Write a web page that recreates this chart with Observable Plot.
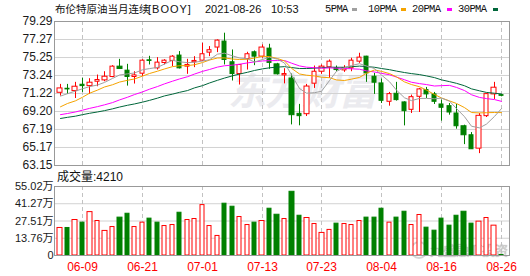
<!DOCTYPE html>
<html><head><meta charset="utf-8">
<script src="https://cdn.jsdelivr.net/npm/d3@7"></script>
<script src="https://cdn.jsdelivr.net/npm/@observablehq/plot@0.6"></script>
<style>
body{margin:0;background:#fff;}
#wrap{position:relative;width:530px;height:276px;overflow:hidden;font-family:"Liberation Sans",Arial,"Noto Sans CJK SC",sans-serif;color:#111;}
.abs{position:absolute;white-space:nowrap;line-height:1;}
.sw{position:absolute;width:5px;height:3px;}
svg{position:absolute;left:0;}
</style></head><body><div id="wrap">
<div class="abs" style="left:228px;top:70px;font-size:38px;font-weight:bold;font-style:italic;color:#ebebef;font-family:'Noto Sans CJK SC';letter-spacing:-1px;">东方财富</div>
<div class="abs" style="left:430px;top:243px;font-size:13px;color:#d0d0d0;font-family:'Noto Sans CJK SC';text-shadow:0 0 1px #999;">九盛融汇投资</div>
<div class="abs" style="left:410px;top:241px;width:14px;height:14px;border:2px solid #d6d6d6;border-radius:50%;"></div>
</div>
<script>
// ---------- data ----------
const dates = ["06-04","06-07","06-08","06-09","06-10","06-11","06-14","06-15","06-16","06-17","06-18","06-21","06-22","06-23","06-24","06-25","06-28","06-29","06-30","07-01","07-02","07-05","07-06","07-07","07-08","07-09","07-12","07-13","07-14","07-15","07-16","07-19","07-20","07-21","07-22","07-23","07-26","07-27","07-28","07-29","07-30","08-02","08-03","08-04","08-05","08-06","08-09","08-10","08-11","08-12","08-13","08-16","08-17","08-18","08-19","08-20","08-23","08-24","08-25","08-26"];
const dateTicks = ["06-09","06-21","07-01","07-13","07-23","08-04","08-16","08-26"];
const open  = [71.30,71.75,71.49,72.20,72.05,72.54,72.69,73.07,74.23,73.78,73.07,73.44,74.94,74.04,74.64,74.87,75.47,74.23,74.72,74.90,75.80,76.37,77.04,74.72,73.40,75.09,75.84,75.35,76.25,74.49,73.25,72.90,68.94,68.90,72.32,73.66,74.15,74.04,73.81,74.04,74.79,75.35,73.10,72.35,70.29,71.19,70.22,69.39,70.85,71.60,71.12,69.99,69.80,68.98,67.55,66.54,65.04,68.68,71.12,71.04];
const high  = [72.24,72.24,72.47,72.92,72.88,73.29,73.66,74.34,75.05,74.49,73.66,75.01,75.39,75.24,75.01,75.47,75.92,75.05,75.35,76.85,76.48,77.23,77.98,76.10,74.45,75.84,75.99,76.67,76.74,74.60,74.00,73.40,70.00,72.24,74.30,74.42,74.98,74.30,74.34,75.17,75.73,75.39,73.48,72.84,71.34,72.47,70.29,71.04,71.79,71.90,71.34,70.48,70.10,69.99,67.67,66.84,68.98,71.23,72.47,71.12];
const low   = [70.93,71.12,70.66,71.34,71.12,71.98,72.54,72.99,73.93,72.05,72.28,73.10,74.42,73.85,74.42,74.23,73.97,73.37,74.12,74.79,75.35,75.80,74.42,72.62,72.17,73.85,74.34,75.17,73.93,73.29,72.30,67.70,67.60,68.64,71.79,73.37,72.92,73.66,73.59,73.66,74.60,72.47,71.12,70.10,69.80,70.37,67.59,68.98,69.09,70.66,69.99,68.12,68.79,67.22,65.49,64.97,64.48,68.53,70.55,70.85];
const close = [71.79,71.68,71.98,72.05,72.43,72.73,73.10,74.23,73.97,73.07,73.25,74.90,74.87,74.68,74.90,75.35,74.04,74.42,74.87,75.62,76.07,77.15,74.98,73.40,74.42,75.62,75.35,76.37,74.65,73.37,73.40,68.79,68.68,72.00,73.66,74.23,74.79,73.85,74.04,74.90,75.24,73.48,72.43,70.40,71.15,70.48,69.24,70.81,71.68,71.12,70.29,69.62,69.09,67.55,66.54,64.97,68.72,71.15,71.87,70.96];
const ma5  = [70.93,71.20,71.49,71.75,71.99,72.17,72.46,72.91,73.29,73.42,73.52,73.88,74.01,74.15,74.52,74.94,74.77,74.68,74.72,74.86,75.00,75.63,75.74,75.44,75.20,75.11,74.75,75.03,75.28,75.07,74.63,73.32,71.78,71.25,71.31,71.47,72.67,73.71,74.11,74.36,74.56,74.30,74.02,73.29,72.54,71.59,70.74,70.42,70.67,70.67,70.63,70.70,70.36,69.53,68.62,67.55,67.37,67.79,68.65,69.53];
const ma10 = [69.73,70.10,70.40,70.80,71.25,71.60,71.95,72.20,72.50,72.70,72.85,73.17,73.46,73.72,73.97,74.23,74.33,74.35,74.44,74.69,74.97,75.20,75.21,75.08,75.03,75.06,75.19,75.39,75.36,75.14,74.87,74.04,73.41,73.27,73.19,73.05,72.99,72.74,72.68,72.83,73.02,73.49,73.86,73.70,73.45,73.08,72.52,72.22,71.98,71.60,71.11,70.72,70.39,70.10,69.64,69.09,69.04,69.07,69.09,69.08];
const ma20 = [68.85,68.98,69.15,69.35,69.55,69.75,69.95,70.20,70.50,70.80,71.10,71.40,71.70,72.00,72.30,72.60,72.85,73.10,73.40,73.70,73.91,74.18,74.33,74.40,74.50,74.65,74.76,74.87,74.90,74.91,74.92,74.62,74.31,74.17,74.11,74.05,74.09,74.06,74.02,73.99,73.94,73.76,73.63,73.48,73.32,73.06,72.76,72.48,72.33,72.22,72.06,72.10,72.13,71.90,71.55,71.08,70.78,70.65,70.54,70.34];
const ma30 = [68.42,68.55,68.68,68.85,69.00,69.15,69.30,69.50,69.70,69.90,70.05,70.25,70.45,70.70,70.95,71.15,71.35,71.55,71.85,72.10,72.40,72.70,72.95,73.20,73.40,73.60,73.80,73.98,74.10,74.18,74.23,74.13,74.02,74.02,74.06,74.11,74.17,74.16,74.16,74.22,74.29,74.24,74.16,74.02,73.89,73.73,73.57,73.45,73.34,73.19,73.00,72.75,72.55,72.36,72.09,71.74,71.52,71.34,71.25,71.17];
const volume = [21.95,21.95,28.3,26.2,34.6,27.5,19.6,22.7,30.2,33.3,22.7,26.2,29.4,26.2,23.5,24.3,34.1,28.3,29.1,40.2,23.5,15.6,41.3,38.9,30.7,24.3,26.2,27.5,37.3,32.5,29.1,50.8,31.7,29.9,25.1,18.0,20.4,25.4,25.1,24.3,27.5,30.2,30.2,37.3,26.2,30.2,34.9,24.3,32.3,22.2,19.8,29.4,23.8,31.7,34.9,25.4,27.0,29.9,23.8,0.42];
const volDir = "RGRGRRRRGGRRGGRRGRRRRRGGRRGRGGRGGRRRRGRRRGGGRGGRRGGGGGGGRRRG".split("");
const priceTicks = [79.29,77.27,75.25,73.24,71.22,69.20,67.19,65.17,63.15];
const volTicks = [0,13.76,27.51,41.27,55.02];
const maNames = ["5PMA","10PMA","20PMA","30PMA"];
const maColors = ["#a0a0a0","#f5a300","#ff00ff","#00663a"];
const title = ["布伦特原油当月连续","[BOOY]","2021-08-26","10:53"];
const volTitle = "成交量:4210";

// ---------- build ----------
const RED = "#ff0000", GRN = "#008000";
const tickIdx = dateTicks.map(t => dates.indexOf(t));
const candles = dates.map((d, i) => ({i, o: open[i], h: high[i], l: low[i], c: close[i],
  col: close[i] >= open[i] ? RED : GRN, fillc: close[i] >= open[i] ? "#fff" : GRN}));
const vols = volume.map((v, i) => ({i, v, col: volDir[i] === "R" ? RED : GRN, fillc: volDir[i] === "R" ? "#fff" : GRN}));
const xDomain = [-0.742, 60.07];
const hw = 0.28;
const font = "Liberation Sans, Arial, Noto Sans CJK SC, sans-serif";

const price = Plot.plot({
  width: 530, height: 170, marginTop: 21, marginBottom: 5, marginLeft: 54, marginRight: 21,
  x: {domain: xDomain, axis: null, round: true},
  y: {domain: [63.15, 79.29], axis: null},
  color: {type: "identity"},
  style: {background: "transparent", fontFamily: font, overflow: "visible"},
  marks: [
    Plot.ruleY(priceTicks, {stroke: "#d2d2d2"}),
    Plot.ruleX(tickIdx, {stroke: "#c2c2c2", strokeDasharray: "4,3"}),
    Plot.axisY(priceTicks, {tickSize: 0, tickPadding: 2, tickFormat: d => d.toFixed(2), fontSize: 12, fill: "#1a1a1a", label: null}),
    Plot.ruleX(candles, {x: "i", y1: "l", y2: "h", stroke: "col"}),
    Plot.rect(candles, {x1: d => d.i - hw, x2: d => d.i + hw, y1: "o", y2: "c", fill: "fillc", stroke: "col"}),
    Plot.line(ma30, {x: (d, i) => i, y: d => d, stroke: maColors[3], strokeWidth: 1}),
    Plot.line(ma20, {x: (d, i) => i, y: d => d, stroke: maColors[2], strokeWidth: 1}),
    Plot.line(ma10, {x: (d, i) => i, y: d => d, stroke: maColors[1], strokeWidth: 1}),
    Plot.line(ma5, {x: (d, i) => i, y: d => d, stroke: maColors[0], strokeWidth: 1}),
    Plot.frame({stroke: "#999"})
  ]
});
price.style.top = "0px";

const vol = Plot.plot({
  width: 530, height: 106, marginTop: 16, marginBottom: 21, marginLeft: 54, marginRight: 21,
  x: {domain: xDomain, axis: null, round: true},
  y: {domain: [0, 55.02], axis: null},
  color: {type: "identity"},
  style: {background: "transparent", fontFamily: font, overflow: "visible"},
  marks: [
    Plot.ruleY(volTicks, {stroke: "#d2d2d2"}),
    Plot.ruleX(tickIdx, {stroke: "#c2c2c2", strokeDasharray: "4,3"}),
    Plot.axisY(volTicks, {tickSize: 0, tickPadding: 1, tickFormat: d => d === 0 ? "0" : d.toFixed(2) + "万", fontSize: 11, fill: "#1a1a1a", label: null}),
    Plot.axisX(tickIdx, {tickSize: 0, tickPadding: 7, tickFormat: i => dates[i], fontSize: 12, fill: RED, label: null}),
    Plot.rect(vols, {x1: d => d.i - hw, x2: d => d.i + hw, y1: 0, y2: "v", fill: "fillc", stroke: "col"}),
    Plot.frame({stroke: "#999"})
  ]
});
vol.style.top = "170px";

const wrap = document.getElementById("wrap");
wrap.appendChild(price);
wrap.appendChild(vol);

function addText(txt, left, top, size, extra) {
  const d = document.createElement("div");
  d.className = "abs";
  d.textContent = txt;
  d.style.left = left + "px"; d.style.top = top + "px"; d.style.fontSize = size + "px";
  if (extra) Object.assign(d.style, extra);
  wrap.appendChild(d);
}
// title
addText(title[0], 55, 4, 10.5, {fontFamily: "Noto Sans CJK SC"});
addText(title[1], 148, 4, 11, {letterSpacing: "1px"});
addText(title[2], 205, 4, 11);
addText(title[3], 271, 4, 11);
// legend
const legX = [325, 368, 412, 458];
const swX = [352, 401, 447, 493];
maNames.forEach((n, k) => {
  addText(n, legX[k], 4, 10.5, {fontFamily: "Liberation Mono, monospace", letterSpacing: "-0.6px"});
  const s = document.createElement("div");
  s.className = "sw"; s.style.left = swX[k] + "px"; s.style.top = "8px"; s.style.background = maColors[k];
  wrap.appendChild(s);
});
addText(volTitle, 57, 171, 12, {});
</script></body></html>
